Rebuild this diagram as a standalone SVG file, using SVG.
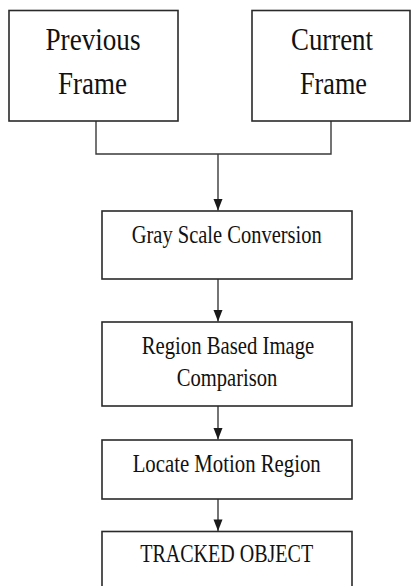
<svg xmlns="http://www.w3.org/2000/svg" width="411" height="586" viewBox="0 0 411 586">
  <style>
    .box { fill: #ffffff; stroke: #2a2a2a; stroke-width: 1.6; }
    .lbl { font-family: "Liberation Serif", "Times New Roman", serif; fill: #111111; text-anchor: middle; }
    .big { font-size: 31px; }
    .mid { font-size: 25px; }
    .wire { fill: none; stroke: #3a3a3a; stroke-width: 1.4; }
    .head { fill: #1a1a1a; }
  </style>
  <rect width="411" height="586" fill="#ffffff"/>

  <g id="connectors">
    <polyline class="wire" points="96,121 96,154 331,154 331,121"/>
    <path d="M218,154 V210.5" class="wire"/>
    <path class="head" d="M213.5,199 L222.5,199 L218,210.5 Z"/>
    <path d="M218,279 V321.5" class="wire"/>
    <path class="head" d="M213.5,310 L222.5,310 L218,321.5 Z"/>
    <path d="M218,406 V439.5" class="wire"/>
    <path class="head" d="M213.5,428 L222.5,428 L218,439.5 Z"/>
    <path d="M218,499 V531" class="wire"/>
    <path class="head" d="M213.5,519.5 L222.5,519.5 L218,531 Z"/>
  </g>

  <g id="previous-frame">
    <rect class="box" x="9" y="10.5" width="169" height="110.5"/>
    <text class="lbl big" x="93" y="50" textLength="95" lengthAdjust="spacingAndGlyphs">Previous</text>
    <text class="lbl big" x="92.5" y="94" textLength="69" lengthAdjust="spacingAndGlyphs">Frame</text>
  </g>

  <g id="current-frame">
    <rect class="box" x="252" y="10.5" width="158" height="110.5"/>
    <text class="lbl big" x="332" y="50" textLength="82" lengthAdjust="spacingAndGlyphs">Current</text>
    <text class="lbl big" x="333.5" y="94" textLength="67" lengthAdjust="spacingAndGlyphs">Frame</text>
  </g>

  <g id="gray-scale">
    <rect class="box" x="102" y="211" width="250" height="68"/>
    <text class="lbl mid" x="226.7" y="243" textLength="190" lengthAdjust="spacingAndGlyphs">Gray Scale Conversion</text>
  </g>

  <g id="region-compare">
    <rect class="box" x="102" y="322" width="250" height="84"/>
    <text class="lbl mid" x="228" y="354" textLength="172.6" lengthAdjust="spacingAndGlyphs">Region Based Image</text>
    <text class="lbl mid" x="227" y="386" textLength="100.6" lengthAdjust="spacingAndGlyphs">Comparison</text>
  </g>

  <g id="locate-motion">
    <rect class="box" x="102" y="440" width="250" height="59"/>
    <text class="lbl mid" x="226.7" y="472" textLength="188" lengthAdjust="spacingAndGlyphs">Locate Motion Region</text>
  </g>

  <g id="tracked-object">
    <rect class="box" x="102" y="531.5" width="250" height="70"/>
    <text class="lbl mid" x="226.7" y="561.5" textLength="173" lengthAdjust="spacingAndGlyphs">TRACKED OBJECT</text>
  </g>
</svg>
